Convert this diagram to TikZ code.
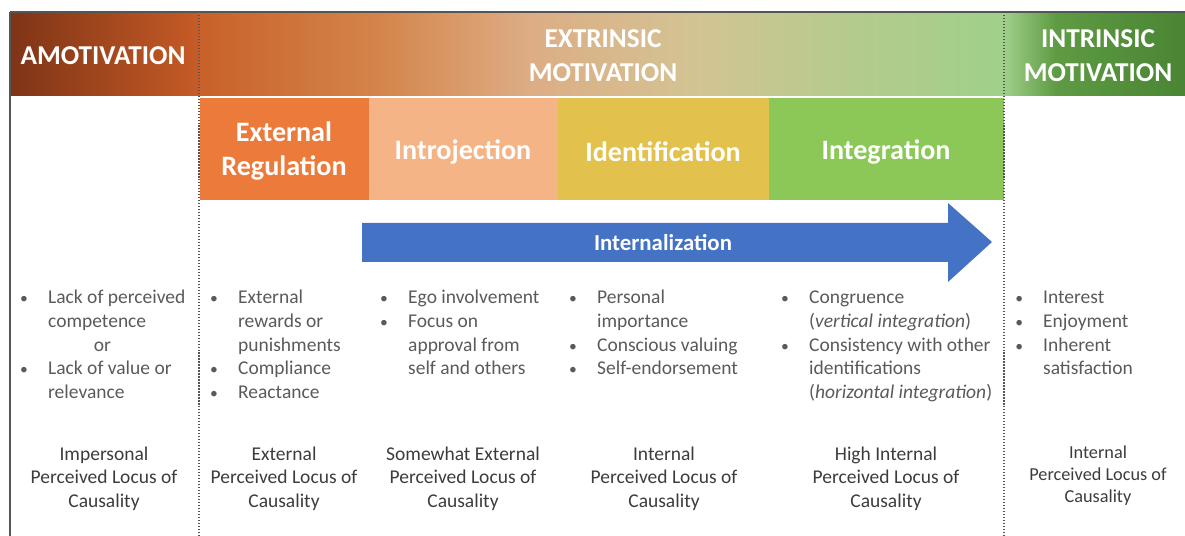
\documentclass[tikz,border=0pt]{standalone}
\usepackage{fontspec}
\setmainfont{Carlito}
\usepackage{array}
\usepackage{graphicx}
\definecolor{amoL}{HTML}{7E3416}
\definecolor{amoR}{HTML}{C65B26}
\definecolor{ex1}{HTML}{C8612A}
\definecolor{ex2}{HTML}{D4854B}
\definecolor{ex3}{HTML}{DDAD85}
\definecolor{ex4}{HTML}{D2C493}
\definecolor{ex5}{HTML}{B3CB8C}
\definecolor{ex6}{HTML}{A0D08A}
\definecolor{in2}{HTML}{5E9B43}
\definecolor{in3}{HTML}{4A8533}
\definecolor{extreg}{HTML}{EC7B3B}
\definecolor{intro}{HTML}{F4B486}
\definecolor{ident}{HTML}{E2C14C}
\definecolor{integ}{HTML}{8CC857}
\definecolor{arrowblue}{HTML}{4472C4}
\definecolor{bulletgray}{HTML}{5A5A5A}
\definecolor{locgray}{HTML}{3C3C3C}
\definecolor{framegray}{HTML}{555555}
\newcommand{\blist}[1]{\begin{tabular}[t]{@{}p{16.4pt}@{}l@{}}#1\end{tabular}}
\newcommand{\cblock}[1]{\begin{tabular}[t]{@{}c@{}}#1\end{tabular}}
\newcommand{\mybul}{\hspace*{0.5pt}\scalebox{0.8}{\textbullet}}
\tikzset{
  hdr/.style={text=white, font=\fontsize{15.5}{19.3}\selectfont\bfseries, align=center, inner sep=0},
  subhdr/.style={text=white, font=\fontsize{16}{19.3}\selectfont\bfseries, align=center, inner sep=0},
  blt/.style={text=bulletgray, font=\fontsize{11.1}{13.4}\selectfont, anchor=base west, inner sep=0},
  loc/.style={text=locgray, font=\fontsize{11.1}{13.6}\selectfont, anchor=base, inner sep=0},
  sepline/.style={densely dotted, draw=framegray, line width=0.7pt},
  frame/.style={draw=framegray, line width=1pt}
}
\begin{document}
\begin{tikzpicture}[x=0.02cm, y=-0.02cm]
\useasboundingbox (0,0) rectangle (1185,536);
% header band
\shade[left color=amoL, right color=amoR] (10,12) rectangle (199,96);
\shade[left color=ex1, right color=ex2] (199,12) rectangle (380.5,96);
\shade[left color=ex2, right color=ex3] (380,12) rectangle (530.5,96);
\shade[left color=ex3, right color=ex4] (530,12) rectangle (700.5,96);
\shade[left color=ex4, right color=ex5] (700,12) rectangle (860.5,96);
\shade[left color=ex5, right color=ex6] (860,12) rectangle (1004,96);
\shade[left color=ex6, right color=in2] (1004,12) rectangle (1055.5,96);
\shade[left color=in2, right color=in3] (1055,12) rectangle (1185,96);
% sub headers
\fill[extreg] (200,98) rectangle (369,200);
\fill[intro] (369,98) rectangle (558,200);
\fill[ident] (558,98) rectangle (769,200);
\fill[integ] (769,98) rectangle (1004,200);
% frame lines
\draw[frame] (10,12) -- (1185,12);
\draw[frame] (10,12) -- (10,536);
\draw[sepline] (199,12) -- (199,536);
\draw[sepline] (1004,12) -- (1004,536);
% header texts
\node[hdr] (amo) at (103,56) {AMOTIVATION};
\node[hdr] (ext) at (603,56) {EXTRINSIC\\MOTIVATION};
\node[hdr] (intr) at (1098,56) {INTRINSIC\\MOTIVATION};
\node[subhdr] (er) at (284,151) {External\\Regulation};
\node[subhdr] (ij) at (463,152) {Introjection};
\node[subhdr] (id) at (663,152) {Identification};
\node[subhdr] (ig) at (886,152) {Integration};
% arrow
\fill[arrowblue] (362,223) -- (948,223) -- (948,203) -- (992,242) -- (948,282) -- (948,262) -- (362,262) -- cycle;
\node[text=white, font=\fontsize{13}{15}\selectfont\bfseries, inner sep=0] (intz) at (663,243) {Internalization};
% bullet lists
\node[blt] (b1) at (19,304) {\blist{\mybul & Lack of perceived\\ & competence\\ & \hspace*{26pt}or\\ \mybul & Lack of value or\\ & relevance}};
\node[blt] (b2) at (209,304) {\blist{\mybul & External\\ & rewards or\\ & punishments\\ \mybul & Compliance\\ \mybul & Reactance}};
\node[blt] (b3) at (379,304) {\blist{\mybul & Ego involvement\\ \mybul & Focus on\\ & approval from\\ & self and others}};
\node[blt] (b4) at (568,304) {\blist{\mybul & Personal\\ & importance\\ \mybul & Conscious valuing\\ \mybul & Self-endorsement}};
\node[blt] (b5) at (780,304) {\blist{\mybul & Congruence\\ & (\textit{vertical integration})\\ \mybul & Consistency with other\\ & identifications\\ & (\textit{horizontal integration})}};
\node[blt] (b6) at (1014,304) {\blist{\mybul & Interest\\ \mybul & Enjoyment\\ \mybul & Inherent\\ & satisfaction}};
% locus texts
\node[loc] (l1) at (104,460) {\cblock{Impersonal\\Perceived Locus of\\Causality}};
\node[loc] (l2) at (284,460) {\cblock{External\\Perceived Locus of\\Causality}};
\node[loc] (l3) at (463,460) {\cblock{Somewhat External\\Perceived Locus of\\Causality}};
\node[loc] (l4) at (664,460) {\cblock{Internal\\Perceived Locus of\\Causality}};
\node[loc] (l5) at (886,460) {\cblock{High Internal\\Perceived Locus of\\Causality}};
\node[loc, font=\fontsize{10.4}{12.8}\selectfont] (l6) at (1098,458) {\cblock{Internal\\Perceived Locus of\\Causality}};
\end{tikzpicture}
\end{document}
